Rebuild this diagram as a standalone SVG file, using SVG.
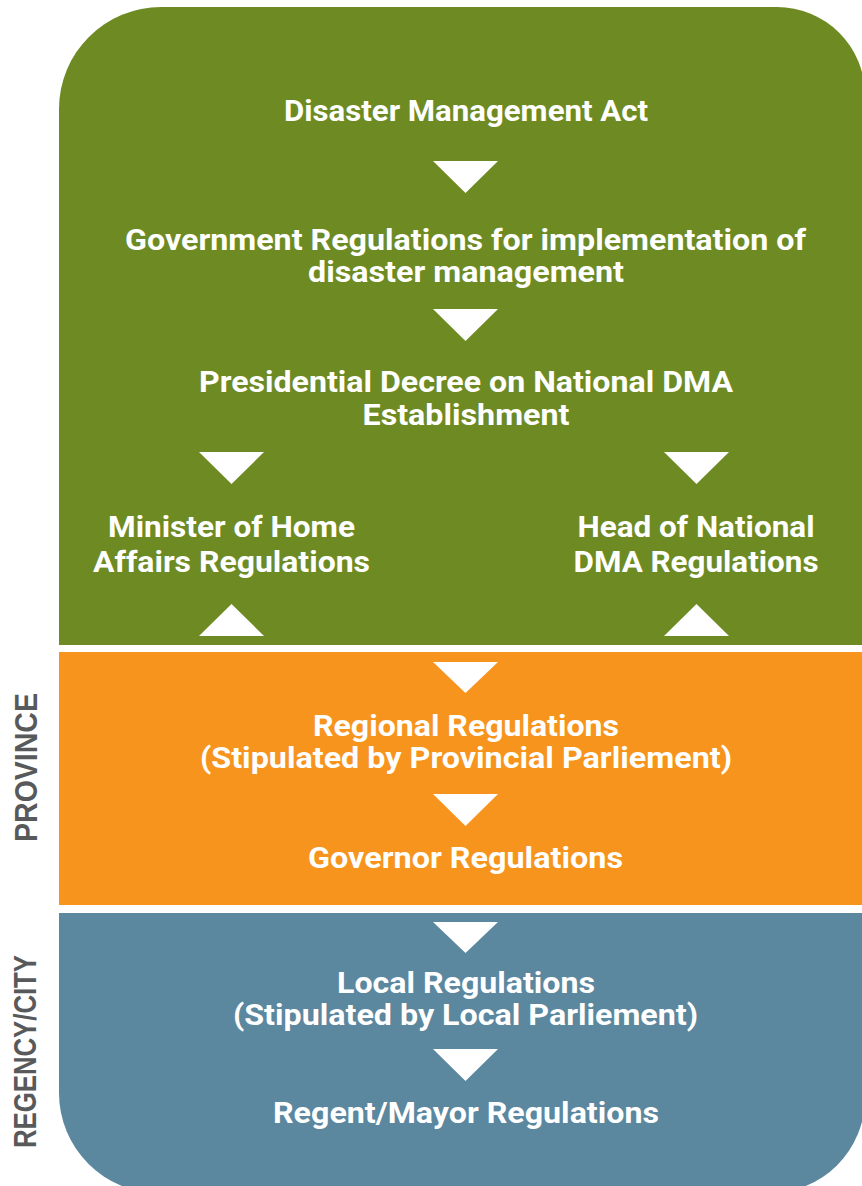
<svg xmlns="http://www.w3.org/2000/svg" width="862" height="1186" viewBox="0 0 862 1186">
<style>
.t{font-family:Roboto,"Liberation Sans",sans-serif;font-weight:700;font-size:30px;fill:#ffffff;text-anchor:middle}
.side{font-family:"Liberation Sans",Arial,sans-serif;font-weight:700;font-size:31px;fill:#58595b;text-anchor:middle}
.arr{fill:#ffffff}
</style>
<rect width="862" height="1186" fill="#ffffff"/>
<g id="panels">
<path id="national-panel" d="M59,109 A102,102 0 0 1 161,7 L777,7 A88,88 0 0 1 865,95 L865,645 L59,645 Z" fill="#6e8b23"/>
<rect id="province-panel" x="59" y="652" width="806" height="253" fill="#f7941e"/>
<path id="regency-panel" d="M59,913 L865,913 L865,1098 A95,95 0 0 1 770,1193 L159,1193 A100,100 0 0 1 59,1093 Z" fill="#5b879f"/>
</g>
<g id="side-labels">
<text id="label-province" class="side" transform="translate(37,767.5) rotate(-90)" textLength="149" lengthAdjust="spacingAndGlyphs">PROVINCE</text>
<text id="label-regency" class="side" transform="translate(36,1051.5) rotate(-90)" textLength="193" lengthAdjust="spacingAndGlyphs">REGENCY/CITY</text>
</g>
<g id="connectors">
<polygon class="arr" points="433,161 498,161 465.5,193"/>
<polygon class="arr" points="433,309 498,309 465.5,341"/>
<polygon class="arr" points="199,452 264,452 231.5,484"/>
<polygon class="arr" points="664,452 729,452 696.5,484"/>
<polygon class="arr" points="199,636 264,636 231.5,604"/>
<polygon class="arr" points="664,636 729,636 696.5,604"/>
<polygon class="arr" points="433,662 498,662 465.5,693"/>
<polygon class="arr" points="433,794 498,794 465.5,826"/>
<polygon class="arr" points="433,922 498,922 465.5,953"/>
<polygon class="arr" points="433,1049 498,1049 465.5,1081"/>
</g>
<g id="node-act">
<text class="t" x="466" y="121" textLength="364" lengthAdjust="spacingAndGlyphs">Disaster Management Act</text>
</g>
<g id="node-gov-regulations">
<text class="t" x="465.5" y="250" textLength="681" lengthAdjust="spacingAndGlyphs">Government Regulations for implementation of</text>
<text class="t" x="466" y="282" textLength="316" lengthAdjust="spacingAndGlyphs">disaster management</text>
</g>
<g id="node-presidential-decree">
<text class="t" x="466" y="392" textLength="534" lengthAdjust="spacingAndGlyphs">Presidential Decree on National DMA</text>
<text class="t" x="466" y="425" textLength="207" lengthAdjust="spacingAndGlyphs">Establishment</text>
</g>
<g id="node-home-affairs">
<text class="t" x="231.5" y="537" textLength="247" lengthAdjust="spacingAndGlyphs">Minister of Home</text>
<text class="t" x="231.5" y="572" textLength="277" lengthAdjust="spacingAndGlyphs">Affairs Regulations</text>
</g>
<g id="node-head-dma">
<text class="t" x="696" y="537" textLength="237" lengthAdjust="spacingAndGlyphs">Head of National</text>
<text class="t" x="696" y="572" textLength="245" lengthAdjust="spacingAndGlyphs">DMA Regulations</text>
</g>
<g id="node-regional">
<text class="t" x="466" y="736" textLength="306" lengthAdjust="spacingAndGlyphs">Regional Regulations</text>
<text class="t" x="466" y="768" textLength="532" lengthAdjust="spacingAndGlyphs">(Stipulated by Provincial Parliement)</text>
</g>
<g id="node-governor">
<text class="t" x="465.5" y="868" textLength="315" lengthAdjust="spacingAndGlyphs">Governor Regulations</text>
</g>
<g id="node-local">
<text class="t" x="466" y="993" textLength="258" lengthAdjust="spacingAndGlyphs">Local Regulations</text>
<text class="t" x="465.5" y="1025" textLength="465" lengthAdjust="spacingAndGlyphs">(Stipulated by Local Parliement)</text>
</g>
<g id="node-regent">
<text class="t" x="466" y="1123" textLength="386" lengthAdjust="spacingAndGlyphs">Regent/Mayor Regulations</text>
</g>
</svg>
